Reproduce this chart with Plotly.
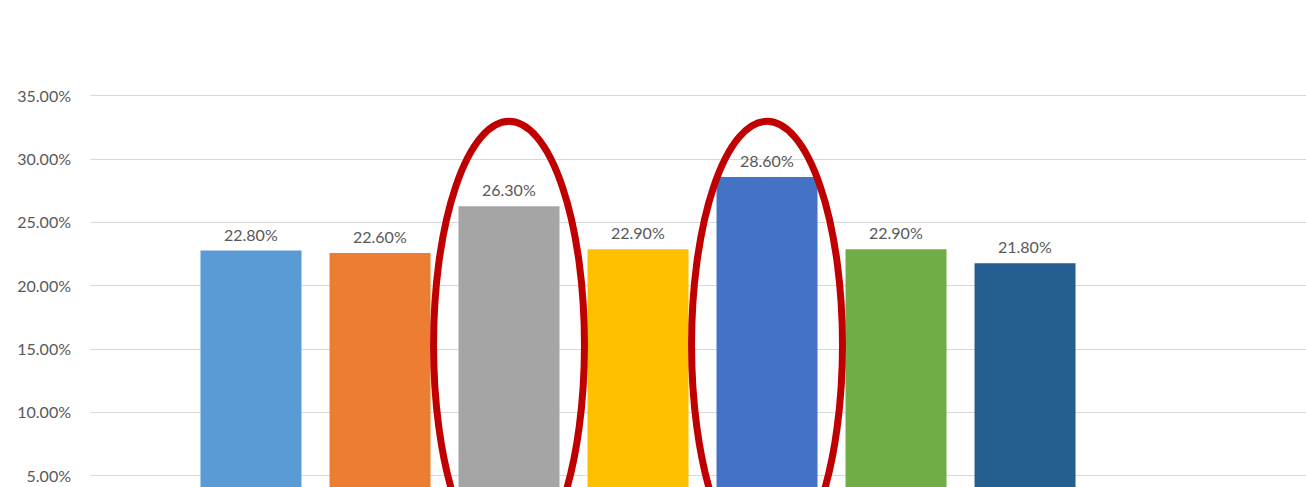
import plotly.graph_objects as go

# Share of respondents per group (percent)
positions = [0, 1, 2, 3, 4, 5, 6]
values = [22.8, 22.6, 26.3, 22.9, 28.6, 22.9, 21.8]
bar_colors = ["#5B9BD5", "#ED7D31", "#A5A5A5", "#FFC000", "#4472C4", "#70AD47", "#255E91"]
tick_values = [5, 10, 15, 20, 25, 30, 35]
tick_labels = ["5.00%", "10.00%", "15.00%", "20.00%", "25.00%", "30.00%", "35.00%"]
highlighted = [2, 4]

text_color = "#595959"
font_family = "Lato, 'Open Sans', sans-serif"

fig = go.Figure()
fig.add_trace(go.Bar(
    x=positions,
    y=values,
    width=0.783,
    marker=dict(color=bar_colors, line=dict(width=0)),
    hoverinfo="skip",
))

# value labels above each bar
for xi, v in zip(positions, values):
    fig.add_annotation(
        x=xi, y=v, xref="x", yref="y",
        text=f"{v:.2f}%",
        showarrow=False, yanchor="bottom", yshift=5,
        font=dict(family=font_family, size=16, color=text_color),
    )

# red ellipses around highlighted bars
for idx in highlighted:
    fig.add_shape(
        type="circle", xref="x", yref="y",
        x0=idx - 0.585, x1=idx + 0.585,
        y0=-2.3, y1=33.0,
        line=dict(color="#C00000", width=7),
        fillcolor="rgba(0,0,0,0)",
        layer="above",
    )

fig.update_layout(
    width=1306, height=487,
    margin=dict(l=90, r=0, t=40, b=0),
    paper_bgcolor="white", plot_bgcolor="white",
    showlegend=False,
    bargap=0.2,
    font=dict(family=font_family, size=16, color=text_color),
    xaxis=dict(
        range=[-1.248, 8.178],
        showticklabels=False, showgrid=False, zeroline=False,
        showline=False, ticks="",
    ),
    yaxis=dict(
        range=[4.13, 39.42],
        tickvals=tick_values, ticktext=tick_labels,
        showgrid=True, gridcolor="#D9D9D9", gridwidth=1,
        zeroline=False, showline=False, ticks="",
        ticklabelstandoff=18,
        tickfont=dict(family=font_family, size=16, color=text_color),
    ),
)

fig.write_html("out.html")
